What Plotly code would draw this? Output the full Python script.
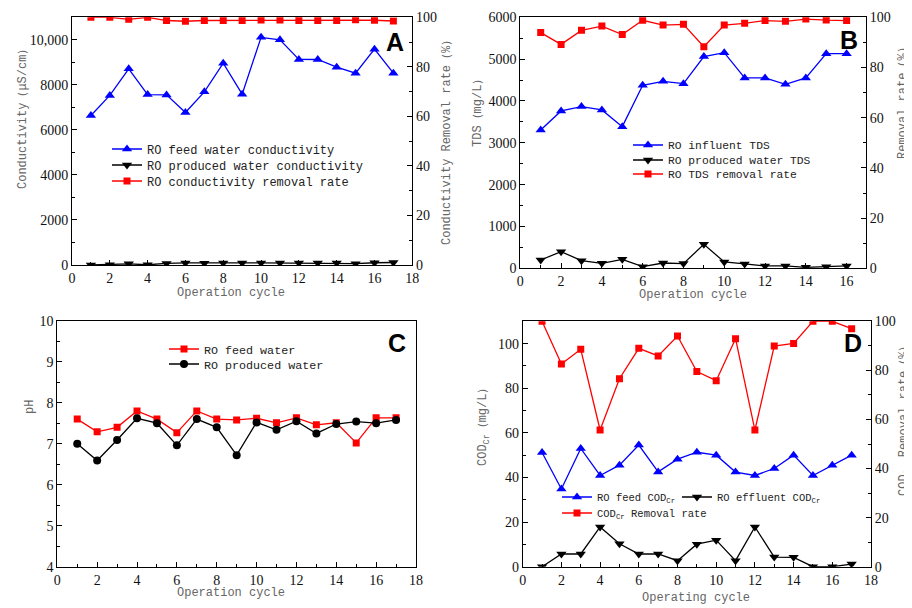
import plotly.graph_objects as go

# ---------------- data ----------------
cycles_a = list(range(1, 18))
a_feed_cond = [6640, 7530, 8710, 7570, 7555, 6770, 7690, 8960, 7585, 10110, 10000,
               9130, 9125, 8785, 8520, 9585, 8520]
a_prod_cond = [0, 10, 50, 10, 70, 90, 80, 90, 90, 90, 90, 90, 90, 90, 60, 100, 110]
a_removal = [100, 100, 99.2, 100, 98.7, 98.4, 98.7, 98.7, 98.7, 98.9, 98.9, 98.7,
             98.7, 98.7, 99.0, 98.8, 98.5]

cycles_b = list(range(1, 17))
b_influent_tds = [3307, 3761, 3865, 3785, 3386, 4375, 4470, 4414, 5060, 5155, 4550,
                  4550, 4398, 4550, 5131, 5131]
b_prod_tds = [199, 398, 183, 120, 215, 40, 127, 112, 574, 151, 104, 56, 56, 24, 40, 56]
b_removal = [93.9, 89.2, 94.8, 96.5, 93.1, 98.8, 96.9, 97.2, 88.3, 96.9, 97.6, 98.7,
             98.4, 99.3, 98.9, 98.7]

cycles_c = list(range(1, 18))
c_feed_ph = [7.60, 7.29, 7.40, 7.80, 7.60, 7.27, 7.80, 7.60, 7.58, 7.62, 7.51, 7.63,
             7.46, 7.51, 7.02, 7.63, 7.63]
c_prod_ph = [7.00, 6.59, 7.09, 7.62, 7.50, 6.96, 7.60, 7.40, 6.72, 7.52, 7.34, 7.55,
             7.25, 7.48, 7.54, 7.50, 7.58]

cycles_d = list(range(1, 18))
d_feed_cod = [51.2, 34.8, 53.0, 40.9, 45.5, 54.5, 42.5, 48.2, 51.3, 50.0, 42.4, 40.9,
              44.0, 50.0, 40.9, 45.5, 50.0]
d_eff_cod = [0, 5.7, 5.7, 17.8, 10.3, 5.7, 5.7, 2.7, 10.1, 11.9, 2.7, 17.8, 4.3, 4.2,
             0, 0, 1.2]
d_removal = [100, 82.6, 88.6, 55.7, 76.6, 89.0, 85.9, 94.0, 79.5, 75.8, 92.9, 55.7,
             89.9, 91.0, 100, 100, 97.0]

a_left_ticks = [0, 2000, 4000, 6000, 8000, 10000]
a_left_text = ["0", "2000", "4000", "6000", "8000", "10,000"]

# ---------------- styles ----------------
BLUE = "#0000ff"
BLACK = "#000000"
RED = "#ff0000"
SERIF = "Liberation Serif"
MONO = "Liberation Mono"
TITLE_COL = "#666666"

# the page body has an 8px margin, so the figure is drawn 8px in from the
# window's top-left corner; size the figure to the remaining area
OFF = 8
W, H = 912 - OFF, 608 - OFF


def px_x(v):
    return (v - OFF) / W


def px_y(v):
    return 1 - (v - OFF) / H


def line_trace(x, y, name, color, symbol, size, xa, ya, legend):
    return go.Scatter(
        x=x, y=y, name=name, mode="lines+markers", showlegend=True,
        line=dict(color=color, width=1.3),
        marker=dict(color=color, symbol=symbol, size=size),
        xaxis=xa, yaxis=ya, legend=legend,
    )


fig = go.Figure()
# Panel A
fig.add_trace(line_trace(cycles_a, a_feed_cond, "RO feed water conductivity", BLUE, "triangle-up", 9, "x", "y", "legend"))
fig.add_trace(line_trace(cycles_a, a_prod_cond, "RO produced water conductivity", BLACK, "triangle-down", 9, "x", "y", "legend2"))
fig.add_trace(line_trace(cycles_a, a_removal, "RO conductivity removal rate", RED, "square", 7, "x", "y2", "legend3"))
# Panel B
fig.add_trace(line_trace(cycles_b, b_influent_tds, "RO influent TDS", BLUE, "triangle-up", 9, "x2", "y3", "legend4"))
fig.add_trace(line_trace(cycles_b, b_prod_tds, "RO produced water TDS", BLACK, "triangle-down", 9, "x2", "y3", "legend5"))
fig.add_trace(line_trace(cycles_b, b_removal, "RO TDS removal rate", RED, "square", 7, "x2", "y4", "legend6"))
# Panel C
fig.add_trace(line_trace(cycles_c, c_feed_ph, "RO feed water", RED, "square", 7, "x3", "y5", "legend7"))
fig.add_trace(line_trace(cycles_c, c_prod_ph, "RO produced water", BLACK, "circle", 8, "x3", "y5", "legend8"))
# Panel D
fig.add_trace(line_trace(cycles_d, d_feed_cod, "RO feed COD<sub>Cr</sub>", BLUE, "triangle-up", 9, "x4", "y6", "legend9"))
fig.add_trace(line_trace(cycles_d, d_eff_cod, "RO effluent COD<sub>Cr</sub>", BLACK, "triangle-down", 9, "x4", "y6", "legend10"))
fig.add_trace(line_trace(cycles_d, d_removal, "COD<sub>Cr</sub> Removal rate", RED, "square", 7, "x4", "y7", "legend11"))

tickfont = dict(family=SERIF, size=14, color="#111111")
titlefont = dict(family=MONO, size=12, color=TITLE_COL)


def xax(dom, anchor, rng, dtick):
    return dict(
        domain=dom, anchor=anchor, range=rng, dtick=dtick, tick0=0,
        showline=True, linecolor="black", linewidth=1, mirror=True,
        ticks="inside", ticklen=5, tickcolor="black",
        minor=dict(ticks="inside", ticklen=3, dtick=dtick / 2, tickcolor="black"),
        showgrid=False, zeroline=False, tickfont=tickfont, automargin=False,
    )


def yax(dom, anchor, rng, dtick, side="left", overlaying=None, tickvals=None, ticktext=None, mirror=True):
    d = dict(
        anchor=anchor, range=rng, dtick=dtick, tick0=0, side=side,
        showline=True, linecolor="black", linewidth=1, mirror=mirror,
        ticks="inside", ticklen=5, tickcolor="black",
        minor=dict(ticks="inside", ticklen=3, dtick=dtick / 2, tickcolor="black"),
        showgrid=False, zeroline=False, tickfont=tickfont, automargin=False,
    )
    if overlaying:
        d["overlaying"] = overlaying
    else:
        d["domain"] = dom
    if tickvals is not None:
        d["tickmode"] = "array"
        d["tickvals"] = tickvals
        d["ticktext"] = ticktext
    return d


domA_x = [px_x(72), px_x(412.3)]
domA_y = [px_y(265), px_y(17.3)]
domB_x = [px_x(520.3), px_x(866)]
domB_y = [px_y(268.3), px_y(17.3)]
domC_x = [px_x(57.3), px_x(416)]
domC_y = [px_y(566.7), px_y(320.7)]
domD_x = [px_x(522.7), px_x(871)]
domD_y = [px_y(566.7), px_y(321.3)]

fig.update_layout(
    width=W, height=H, showlegend=True,
    margin=dict(l=0, r=0, t=0, b=0, pad=0, autoexpand=False),
    paper_bgcolor="white", plot_bgcolor="white",
    font=dict(family=SERIF, size=13, color="black"),
    xaxis=xax(domA_x, "y", [0, 18], 2),
    yaxis=yax(domA_y, "x", [0, 11000], 2000, tickvals=a_left_ticks, ticktext=a_left_text),
    yaxis2=yax(None, "x", [0, 100], 20, side="right", overlaying="y", mirror=False),
    xaxis2=xax(domB_x, "y3", [0, 16.95], 2),
    yaxis3=yax(domB_y, "x2", [0, 6000], 1000),
    yaxis4=yax(None, "x2", [0, 100], 20, side="right", overlaying="y3", mirror=False),
    xaxis3=xax(domC_x, "y5", [0, 18], 2),
    yaxis5=yax(domC_y, "x3", [4, 10], 1),
    xaxis4=xax(domD_x, "y6", [0, 18], 2),
    yaxis6=yax(domD_y, "x4", [0, 110], 20),
    yaxis7=yax(None, "x4", [0, 100], 20, side="right", overlaying="y6", mirror=False),
)

# one legend per entry, placed where the reference shows each entry
TEXT_OFFSET = 41
leg_pos = [  # (legend name, text start px, row centre px, font size)
    ("legend", 148, 149, 12), ("legend2", 148, 165, 12), ("legend3", 148, 181, 12),
    ("legend4", 669, 145, 11.3), ("legend5", 669, 160, 11.3), ("legend6", 669, 174, 11.3),
    ("legend7", 205, 349, 11.7), ("legend8", 205, 364, 11.7),
    ("legend9", 598, 497, 10.5), ("legend10", 718, 497, 10.5), ("legend11", 598, 513, 10.5),
]
leg_layout = {}
for name, tx, ty, fs in leg_pos:
    leg_layout[name] = dict(
        visible=True,
        font=dict(family=MONO, size=fs, color="#222222"),
        bgcolor="rgba(0,0,0,0)", borderwidth=0, tracegroupgap=0,
        itemwidth=30, x=px_x(tx - TEXT_OFFSET), y=px_y(ty),
        xanchor="left", yanchor="middle",
    )
fig.update_layout(**leg_layout)

# axis titles as annotations (precise placement)
axis_titles = [
    # text, x px, y px, angle
    ("Conductivity（μS/cm）", 23, 116, -90),
    ("Conductivity Removal rate（%）", 447, 140, -90),
    ("Operation cycle", 231, 293, 0),
    ("TDS（mg/L）", 478, 110, -90),
    ("Removal rate（%）", 903, 100, -90),
    ("Operation cycle", 693, 295, 0),
    ("pH", 30, 407, -90),
    ("Operation cycle", 231, 593, 0),
    ("COD<sub>Cr</sub>（mg/L）", 484, 424, -90),
    ("COD<sub>Cr</sub> Removal rate（%）", 905, 418, -90),
    ("Operating cycle", 696, 598, 0),
]
for txt, ax_, ay_, ang in axis_titles:
    fig.add_annotation(
        text=txt, x=px_x(ax_), y=px_y(ay_), xref="paper", yref="paper",
        showarrow=False, xanchor="center", yanchor="middle", textangle=ang,
        font=titlefont,
    )

letters = [("A", 395, 42), ("B", 849, 40), ("C", 397, 343), ("D", 853, 343)]
for txt, lx, ly in letters:
    fig.add_annotation(
        text=f"<b>{txt}</b>", x=px_x(lx), y=px_y(ly), xref="paper", yref="paper",
        showarrow=False, xanchor="center", yanchor="middle",
        font=dict(family="Liberation Sans", size=25, color="black"),
    )

fig.write_html("out.html")
